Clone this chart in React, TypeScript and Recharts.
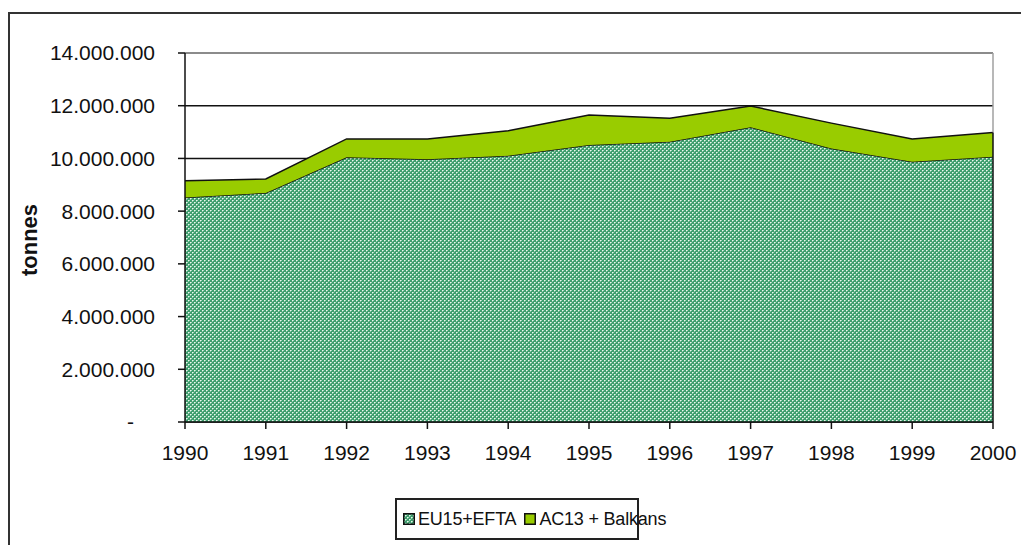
import React from 'react';
import {
  AreaChart,
  Area,
  XAxis,
  YAxis,
  CartesianGrid,
  ReferenceLine,
} from 'recharts';

const years = ['1990', '1991', '1992', '1993', '1994', '1995', '1996', '1997', '1998', '1999', '2000'];
const eu15Efta = [8520000, 8690000, 10040000, 9970000, 10100000, 10510000, 10630000, 11180000, 10380000, 9870000, 10060000];
const ac13Balkans = [630000, 530000, 700000, 770000, 950000, 1140000, 890000, 810000, 960000, 870000, 920000];
const yTicks = [0, 2000000, 4000000, 6000000, 8000000, 10000000, 12000000, 14000000];

const data = years.map((year, i) => ({
  year,
  eu: eu15Efta[i],
  ac: ac13Balkans[i],
}));

const lastYear = years[years.length - 1];
const lastTotal = eu15Efta[eu15Efta.length - 1] + ac13Balkans[ac13Balkans.length - 1];

const FONT = '"Liberation Sans", Arial, sans-serif';

const fmt = (v: number) => String(v).replace(/\B(?=(\d{3})+(?!\d))/g, '.');

const YTick = (props: any) => {
  const { x, y, payload } = props;
  const zero = payload.value === 0;
  return (
    <text
      x={zero ? x - 21 : x}
      y={y}
      dy="0.355em"
      textAnchor="end"
      fontFamily={FONT}
      fontSize={21}
      fill="#111"
    >
      {zero ? '-' : fmt(payload.value)}
    </text>
  );
};

// hatch tile used for the EU15+EFTA area and its legend swatch
const Hatch = ({ id }: { id: string }) => (
  <pattern id={id} width={4} height={4} patternUnits="userSpaceOnUse">
    <rect width={4} height={4} fill="#3f9e6e" />
    <rect x={0} y={0} width={1} height={1} fill="#eaf7ef" />
    <rect x={2} y={2} width={1} height={1} fill="#eaf7ef" />
    <rect x={1} y={0} width={1} height={1} fill="#a8d8bd" />
    <rect x={3} y={2} width={1} height={1} fill="#a8d8bd" />
    <rect x={0} y={1} width={1} height={1} fill="#8ccaa8" />
    <rect x={2} y={3} width={1} height={1} fill="#8ccaa8" />
  </pattern>
);

const Swatch = ({ fill }: { fill: string }) => (
  <svg width={12} height={12} style={{ display: 'block' }}>
    <defs>
      <Hatch id="legendHatch" />
    </defs>
    <rect x={0.75} y={0.75} width={10.5} height={10.5} fill={fill} stroke="#111" strokeWidth={1.5} />
  </svg>
);

export default function App() {
  return (
    <div style={{ position: 'relative', width: 1021, height: 537, fontFamily: FONT }}>
      <div
        style={{
          position: 'absolute',
          left: 0,
          top: 4,
          width: 1040,
          height: 560,
          borderLeft: '2px solid #333',
          borderTop: '2px solid #333',
        }}
      />
      <div style={{ position: 'absolute', left: 0, top: 0 }}>
        <AreaChart
          width={1021}
          height={537}
          data={data}
          margin={{ top: 45, right: 36, left: 0, bottom: 83 }}
        >
          <defs>
            <Hatch id="euHatch" />
          </defs>
          <CartesianGrid vertical={false} stroke="#111" strokeWidth={1.5} />
          <XAxis
            dataKey="year"
            interval={0}
            tickSize={7}
            tickMargin={16}
            stroke="#111"
            strokeWidth={1.5}
            tick={{ fill: '#111', fontSize: 21, fontFamily: FONT }}
            height={40}
          />
          <YAxis
            domain={[0, 14000000]}
            ticks={yTicks}
            interval={0}
            tickSize={7}
            tickMargin={23}
            stroke="#111"
            strokeWidth={1.5}
            tick={<YTick />}
            width={177}
          />
          <Area
            type="linear"
            dataKey="eu"
            stackId="1"
            stroke="#111"
            strokeWidth={1.5}
            fill="url(#euHatch)"
            fillOpacity={1}
            isAnimationActive={false}
          />
          <Area
            type="linear"
            dataKey="ac"
            stackId="1"
            stroke="#111"
            strokeWidth={1.5}
            fill="#99cc00"
            fillOpacity={1}
            isAnimationActive={false}
          />
          <ReferenceLine y={14000000} stroke="#a0a0a0" strokeWidth={1.5} />
          <ReferenceLine
            segment={[
              { x: lastYear, y: lastTotal },
              { x: lastYear, y: 14000000 },
            ]}
            stroke="#a0a0a0"
            strokeWidth={1.5}
          />
          <ReferenceLine
            segment={[
              { x: lastYear, y: 0 },
              { x: lastYear, y: lastTotal },
            ]}
            stroke="#111"
            strokeWidth={1.5}
          />
        </AreaChart>
      </div>
      <div
        style={{
          position: 'absolute',
          left: 22,
          top: 232,
          transform: 'translate(-50%, -50%) rotate(-90deg)',
          fontWeight: 'bold',
          fontSize: 22,
          color: '#111',
          whiteSpace: 'nowrap',
        }}
      >
        tonnes
      </div>
      <div
        style={{
          position: 'absolute',
          left: 387,
          top: 490,
          width: 240,
          height: 38,
          border: '2px solid #222',
          display: 'flex',
          alignItems: 'center',
          fontSize: 18,
          letterSpacing: -0.2,
          color: '#111',
          whiteSpace: 'nowrap',
        }}
      >
        <div style={{ marginLeft: 6, marginRight: 3 }}>
          <Swatch fill="url(#legendHatch)" />
        </div>
        <span>EU15+EFTA</span>
        <div style={{ marginLeft: 8, marginRight: 3 }}>
          <Swatch fill="#99cc00" />
        </div>
        <span>AC13 + Balkans</span>
      </div>
    </div>
  );
}
